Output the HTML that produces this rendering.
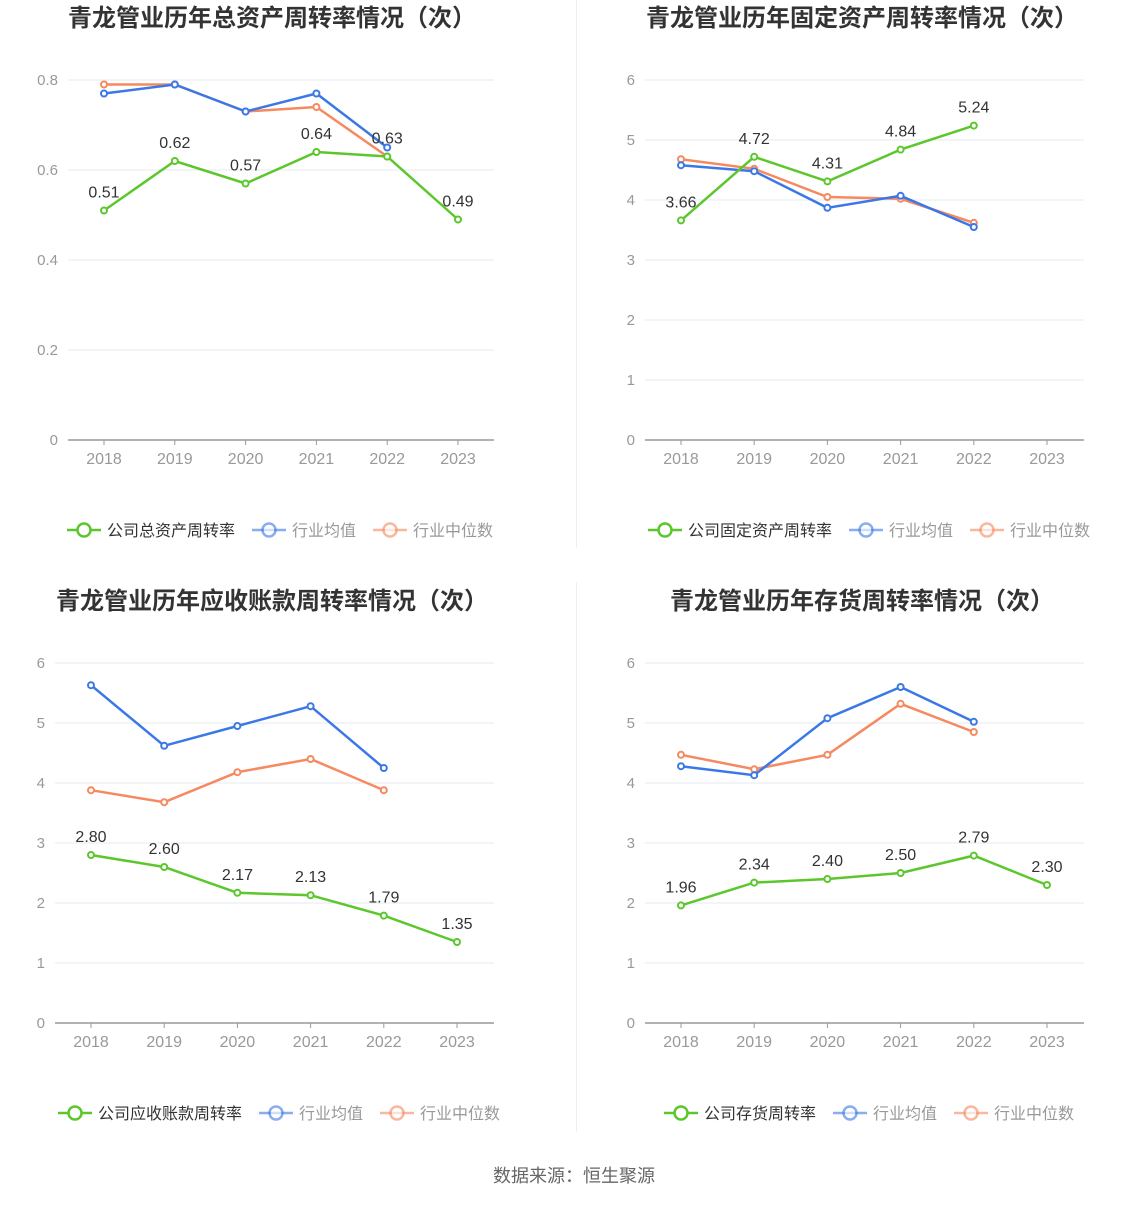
<!DOCTYPE html>
<html><head><meta charset="utf-8">
<style>
html,body{margin:0;padding:0;background:#fff;}
body{width:1148px;height:1202px;position:relative;font-family:"Liberation Sans","Noto Sans CJK SC",sans-serif;overflow:hidden;}
svg text{font-family:"Liberation Sans","Noto Sans CJK SC",sans-serif;}
</style></head>
<body>
<svg id="root" width="1148" height="1202"></svg>
<script>
const years = ["2018","2019","2020","2021","2022","2023"];
// Chart 1: total asset turnover
const c1Company = [0.51,0.62,0.57,0.64,0.63,0.49];
const c1Mean = [0.77,0.79,0.73,0.77,0.65];
const c1Median = [0.79,0.79,0.73,0.74,0.63];
const c1Ticks = [0,0.2,0.4,0.6,0.8];
const c1Labels = ["0.51","0.62","0.57","0.64","0.63","0.49"];
// Chart 2: fixed asset turnover
const c2Company = [3.66,4.72,4.31,4.84,5.24];
const c2Mean = [4.58,4.48,3.87,4.07,3.55];
const c2Median = [4.68,4.52,4.05,4.02,3.62];
const c2Ticks = [0,1,2,3,4,5,6];
const c2Labels = ["3.66","4.72","4.31","4.84","5.24"];
// Chart 3: receivables turnover
const c3Company = [2.80,2.60,2.17,2.13,1.79,1.35];
const c3Mean = [5.63,4.62,4.95,5.28,4.25];
const c3Median = [3.88,3.68,4.18,4.40,3.88];
const c3Ticks = [0,1,2,3,4,5,6];
const c3Labels = ["2.80","2.60","2.17","2.13","1.79","1.35"];
// Chart 4: inventory turnover
const c4Company = [1.96,2.34,2.40,2.50,2.79,2.30];
const c4Mean = [4.28,4.13,5.08,5.60,5.02];
const c4Median = [4.47,4.23,4.47,5.32,4.85];
const c4Ticks = [0,1,2,3,4,5,6];
const c4Labels = ["1.96","2.34","2.40","2.50","2.79","2.30"];

const NS="http://www.w3.org/2000/svg";
const root=document.getElementById('root');
const GREEN="#5cc72d",BLUE="#3b78e7",ORANGE="#f6895f";
function mk(tag,attrs,parent){const e=document.createElementNS(NS,tag);for(const k in attrs)e.setAttribute(k,attrs[k]);(parent||root).appendChild(e);return e;}

function chart(cfg){
  const g=mk('g',{});
  
  
  const t=mk('text',{x:cfg.tx,y:cfg.ty,'text-anchor':'middle','font-size':24,'font-weight':'bold',fill:'#333'},g);
  t.textContent=cfg.title;
  
  
  const maxV=cfg.ticks[cfg.ticks.length-1];
  const yS=v=>cfg.y0-(v/maxV)*(cfg.y0-cfg.yTop);
  const xS=i=>cfg.x0+i*cfg.step;
  cfg.ticks.forEach(v=>{
    const y=yS(v);
    const ln=mk('line',{x1:cfg.left,x2:cfg.right,y1:y,y2:y,stroke:v===0?'#999':'#e6e8f2','stroke-width':v===0?1.5:1},g);
    
    
    const tl=mk('text',{x:cfg.left-10,y:y+5,'text-anchor':'end','font-size':15,fill:'#999'},g);
    tl.textContent=String(v);
    
    
  });
  years.forEach((yr,i)=>{
    const x=xS(i);
    mk('line',{x1:x,x2:x,y1:cfg.y0,y2:cfg.y0+5,stroke:'#999'},g);
    const tl=mk('text',{x:x,y:cfg.y0+24,'text-anchor':'middle','font-size':16,fill:'#999'},g);
    tl.textContent=yr;
    
    
  });
  function series(data,color,nm){
    const pts=data.map((v,i)=>xS(i)+','+yS(v)).join(' ');
    const pl=mk('polyline',{points:pts,fill:'none',stroke:color,'stroke-width':2.5},g);
    
    
    data.forEach((v,i)=>{
      const c=mk('circle',{cx:xS(i),cy:yS(v),r:3,fill:'#fff',stroke:color,'stroke-width':2},g);
      
      
    });
  }
  series(cfg.median,ORANGE,'industry-median');
  series(cfg.mean,BLUE,'industry-mean');
  series(cfg.company,GREEN,'company');
  cfg.company.forEach((v,i)=>{
    const tl=mk('text',{x:xS(i),y:yS(v)-13,'text-anchor':'middle','font-size':16,fill:'#333'},g);
    tl.textContent=cfg.labels[i];
    
    
  });
  const items=[[cfg.legend,GREEN,'#333'],['行业均值',BLUE,'#999'],['行业中位数',ORANGE,'#999']];
  let lx=cfg.lx;
  items.forEach((it,k)=>{
    const lg=mk('g',{},g);
    
    
    const op=k===0?1:0.6;
    mk('line',{x1:lx,x2:lx+34,y1:cfg.ly,y2:cfg.ly,stroke:it[1],'stroke-width':2.5,opacity:op},lg);
    mk('circle',{cx:lx+17,cy:cfg.ly,r:6.5,fill:'#fff',stroke:it[1],'stroke-width':2.5,opacity:op},lg);
    const tx=mk('text',{x:lx+40,y:cfg.ly+6,'font-size':16,fill:it[2]},lg);
    tx.textContent=it[0];
    lx+=40+it[0].length*16+17;
  });
}

chart({name:'total-asset-turnover-chart',title:'青龙管业历年总资产周转率情况（次）',tx:272,ty:26,left:68,right:494,x0:104,step:70.8,y0:440,yTop:80,ticks:c1Ticks,company:c1Company,mean:c1Mean,median:c1Median,labels:c1Labels,legend:'公司总资产周转率',lx:67,ly:530});
chart({name:'fixed-asset-turnover-chart',title:'青龙管业历年固定资产周转率情况（次）',tx:862,ty:26,left:645,right:1084,x0:681,step:73.2,y0:440,yTop:80,ticks:c2Ticks,company:c2Company,mean:c2Mean,median:c2Median,labels:c2Labels,legend:'公司固定资产周转率',lx:648,ly:530});
chart({name:'receivables-turnover-chart',title:'青龙管业历年应收账款周转率情况（次）',tx:272,ty:609,left:55,right:494,x0:91,step:73.2,y0:1023,yTop:663,ticks:c3Ticks,company:c3Company,mean:c3Mean,median:c3Median,labels:c3Labels,legend:'公司应收账款周转率',lx:58,ly:1113});
chart({name:'inventory-turnover-chart',title:'青龙管业历年存货周转率情况（次）',tx:862,ty:609,left:645,right:1084,x0:681,step:73.2,y0:1023,yTop:663,ticks:c4Ticks,company:c4Company,mean:c4Mean,median:c4Median,labels:c4Labels,legend:'公司存货周转率',lx:664,ly:1113});

const d1=mk('line',{x1:576.5,x2:576.5,y1:0,y2:548,stroke:'#eee'});


const d2=mk('line',{x1:576.5,x2:576.5,y1:582,y2:1132,stroke:'#eee'});


const src=mk('text',{x:574,y:1182,'text-anchor':'middle','font-size':18,fill:'#666'});
src.textContent='数据来源：恒生聚源';


</script>
</body></html>
